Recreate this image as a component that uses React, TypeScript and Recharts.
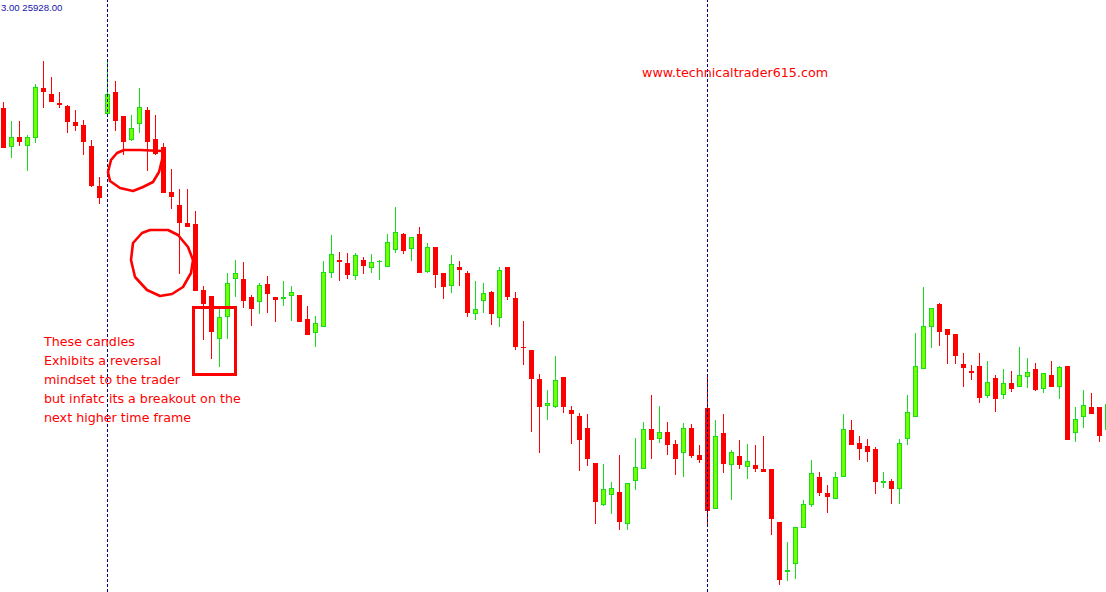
import { Bar, ComposedChart, ReferenceLine, XAxis, YAxis } from 'recharts';

// OHLC per bar (bar 0 = leftmost)
const opens = [
  25892, 25853, 25863, 25854, 25862, 25912, 25906, 25897, 25894, 25878,
  25875, 25854, 25814, 25886, 25908, 25884, 25860, 25876, 25890, 25861,
  25853, 25808, 25795, 25777, 25776, 25710, 25704, 25661, 25683, 25721,
  25721, 25703, 25698, 25716, 25703, 25701, 25704, 25705, 25681, 25667,
  25673, 25727, 25740, 25737, 25724, 25740, 25732, 25738, 25733, 25750,
  25766, 25751, 25766, 25728, 25753, 25727, 25714, 25733, 25727, 25686,
  25699, 25708, 25682, 25733, 25702, 25653, 25650, 25621, 25594, 25593,
  25623, 25590, 25584, 25572, 25537, 25495, 25505, 25508, 25476, 25519,
  25531, 25571, 25561, 25568, 25556, 25547, 25572, 25545, 25592, 25491,
  25567, 25535, 25544, 25533, 25535, 25531, 25531, 25478, 25428, 25436,
  25472, 25495, 25523, 25507, 25501, 25523, 25570, 25557, 25554, 25551,
  25517, 25519, 25511, 25561, 25583, 25631, 25673, 25696, 25671, 25666,
  25636, 25629, 25634, 25604, 25622, 25605, 25617, 25613, 25623, 25631,
  25611, 25625, 25613, 25634, 25567, 25583, 25593, 25593, 25570,
];
const highs = [
  25898, 25879, 25879, 25865, 25916, 25939, 25923, 25908, 25895, 25890,
  25880, 25860, 25823, 25939, 25919, 25884, 25885, 25912, 25893, 25885,
  25857, 25831, 25811, 25811, 25789, 25714, 25704, 25692, 25727, 25740,
  25738, 25705, 25717, 25724, 25703, 25719, 25714, 25705, 25694, 25684,
  25739, 25765, 25748, 25747, 25747, 25743, 25746, 25740, 25766, 25793,
  25767, 25763, 25773, 25757, 25753, 25727, 25745, 25739, 25729, 25719,
  25717, 25709, 25733, 25733, 25708, 25679, 25650, 25626, 25610, 25644,
  25623, 25594, 25587, 25586, 25537, 25536, 25518, 25545, 25517, 25562,
  25578, 25605, 25594, 25578, 25560, 25577, 25576, 25555, 25623, 25580,
  25586, 25550, 25560, 25556, 25555, 25564, 25531, 25478, 25458, 25473,
  25500, 25540, 25528, 25515, 25528, 25586, 25580, 25564, 25561, 25553,
  25528, 25521, 25561, 25605, 25667, 25713, 25692, 25697, 25671, 25666,
  25647, 25635, 25647, 25639, 25625, 25631, 25629, 25653, 25642, 25637,
  25627, 25639, 25634, 25634, 25593, 25610, 25607, 25593, 25596,
];
const lows = [
  25852, 25842, 25854, 25829, 25857, 25892, 25898, 25892, 25867, 25869,
  25845, 25813, 25796, 25884, 25869, 25845, 25859, 25867, 25829, 25845,
  25807, 25791, 25726, 25773, 25709, 25660, 25641, 25633, 25661, 25703,
  25692, 25674, 25686, 25687, 25678, 25694, 25679, 25678, 25665, 25653,
  25673, 25722, 25719, 25721, 25720, 25726, 25727, 25720, 25733, 25747,
  25746, 25739, 25727, 25727, 25712, 25701, 25707, 25714, 25683, 25680,
  25687, 25675, 25673, 25700, 25650, 25635, 25568, 25547, 25580, 25592,
  25587, 25556, 25529, 25534, 25476, 25494, 25486, 25470, 25470, 25510,
  25531, 25541, 25557, 25545, 25525, 25523, 25542, 25537, 25476, 25491,
  25527, 25500, 25531, 25521, 25528, 25528, 25465, 25415, 25419, 25421,
  25472, 25493, 25504, 25487, 25501, 25523, 25555, 25540, 25538, 25506,
  25512, 25496, 25496, 25555, 25583, 25631, 25652, 25654, 25636, 25636,
  25613, 25620, 25597, 25602, 25588, 25601, 25608, 25613, 25612, 25609,
  25607, 25613, 25601, 25560, 25558, 25572, 25586, 25558, 25570,
];
const closes = [
  25852, 25863, 25858, 25863, 25913, 25908, 25898, 25895, 25878, 25874,
  25858, 25814, 25802, 25906, 25879, 25858, 25872, 25893, 25858, 25846,
  25807, 25803, 25777, 25773, 25709, 25696, 25668, 25683, 25717, 25727,
  25699, 25691, 25715, 25706, 25700, 25703, 25708, 25678, 25665, 25677,
  25728, 25746, 25738, 25725, 25745, 25734, 25738, 25739, 25758, 25768,
  25749, 25763, 25727, 25753, 25725, 25713, 25736, 25730, 25687, 25691,
  25707, 25686, 25730, 25703, 25653, 25652, 25621, 25593, 25597, 25620,
  25593, 25586, 25560, 25541, 25498, 25511, 25512, 25478, 25517, 25533,
  25571, 25560, 25568, 25555, 25541, 25572, 25544, 25540, 25489, 25564,
  25536, 25548, 25535, 25539, 25531, 25528, 25481, 25420, 25430, 25473,
  25496, 25527, 25507, 25503, 25523, 25571, 25555, 25551, 25548, 25518,
  25519, 25511, 25557, 25588, 25634, 25674, 25692, 25668, 25665, 25644,
  25632, 25627, 25602, 25618, 25601, 25617, 25611, 25625, 25628, 25610,
  25627, 25613, 25633, 25560, 25581, 25595, 25586, 25564, 25596,
];

// bars where the dotted period separators sit
const separators = [13, 88];

const noteLines = [
  'These candles',
  'Exhibits a reversal',
  'mindset to the trader',
  'but infatc its a breakout on the',
  'next higher time frame',
];

const data = opens.map((open, i) => ({
  i,
  open,
  high: highs[i],
  low: lows[i],
  close: closes[i],
}));

const W = 1106;
const H = 592;
const RED = '#ff0000';
const BULL_FILL = '#72ff00';
const BULL_EDGE = '#19dc19';

const Candle = (props: any) => {
  const { x, y, width, height, payload } = props;
  if (!payload) return null;
  const { open, close, high, low } = payload;
  const top = Math.min(y, y + height);
  const h = Math.abs(height);
  const k = h / (high - low || 1);
  const py = (v: number) => top + (high - v) * k;
  const cx = Math.floor(x + width / 2);
  const up = close > open;
  const bt = Math.round(py(Math.max(open, close)));
  const bb = Math.max(Math.round(py(Math.min(open, close))), bt + 1);
  const color = up ? BULL_EDGE : RED;
  return (
    <g>
      <line
        x1={cx + 0.5}
        x2={cx + 0.5}
        y1={Math.round(py(high))}
        y2={Math.round(py(low))}
        stroke={color}
        strokeWidth={1}
      />
      {up ? (
        <rect
          x={cx - 1.5}
          y={bt + 0.5}
          width={4}
          height={Math.max(bb - bt - 1, 0.01)}
          fill={BULL_FILL}
          stroke={BULL_EDGE}
          strokeWidth={1}
        />
      ) : (
        <rect x={cx - 2} y={bt} width={5} height={bb - bt} fill={RED} />
      )}
    </g>
  );
};

const Notes = () => (
  <svg
    width={W}
    height={H}
    style={{ position: 'absolute', left: 0, top: 0, pointerEvents: 'none' }}
  >
    <text x={1} y={11} fontSize={9.6} fill="#1414a8" fontFamily="Liberation Sans">
      3.00 25928.00
    </text>
    <text x={642} y={77} fontSize={12.7} fill={RED} fontFamily="DejaVu Sans">
      www.technicaltrader615.com
    </text>
    {noteLines.map((t, n) => (
      <text key={t} x={44} y={346 + n * 19} fontSize={12.7} fill={RED} fontFamily="DejaVu Sans">
        {t}
      </text>
    ))}
    <polyline
      points="162,151 140,150 124,150 117,153 111,160 108,172 110,181 120,188 133,191 143,187 153,182 159,172 162,160 163,152"
      fill="none"
      stroke={RED}
      strokeWidth={2.6}
      strokeLinejoin="round"
      strokeLinecap="round"
    />
    <polyline
      points="150,230 168,230 178,235 188,247 193,260 191,273 183,287 172,294 160,296 147,290 135,277 131,260 133,243 142,233 150,230"
      fill="none"
      stroke={RED}
      strokeWidth={2.6}
      strokeLinejoin="round"
      strokeLinecap="round"
    />
    <rect x={193.5} y={307.5} width={42} height={67} fill="none" stroke={RED} strokeWidth={3} />
  </svg>
);

export default function App() {
  return (
    <div style={{ position: 'absolute', left: 0, top: 0, width: W, height: H, background: '#fff' }}>
      <ComposedChart width={W} height={H} data={data} margin={{ top: 0, right: 0, bottom: 0, left: 0 }}>
        <XAxis
          dataKey="i"
          type="number"
          domain={[-0.4375, 137.8125]}
          allowDataOverflow
          hide
        />
        <YAxis type="number" domain={[25408, 26000]} allowDataOverflow hide />
        {separators.map((s) => (
          <ReferenceLine key={s} x={s} stroke="#000080" strokeDasharray="3 2" />
        ))}
        <Bar
          dataKey={(d: any) => [d.low, d.high]}
          barSize={8}
          shape={(p: any) => <Candle {...p} />}
          isAnimationActive={false}
        />
      </ComposedChart>
      <Notes />
    </div>
  );
}
